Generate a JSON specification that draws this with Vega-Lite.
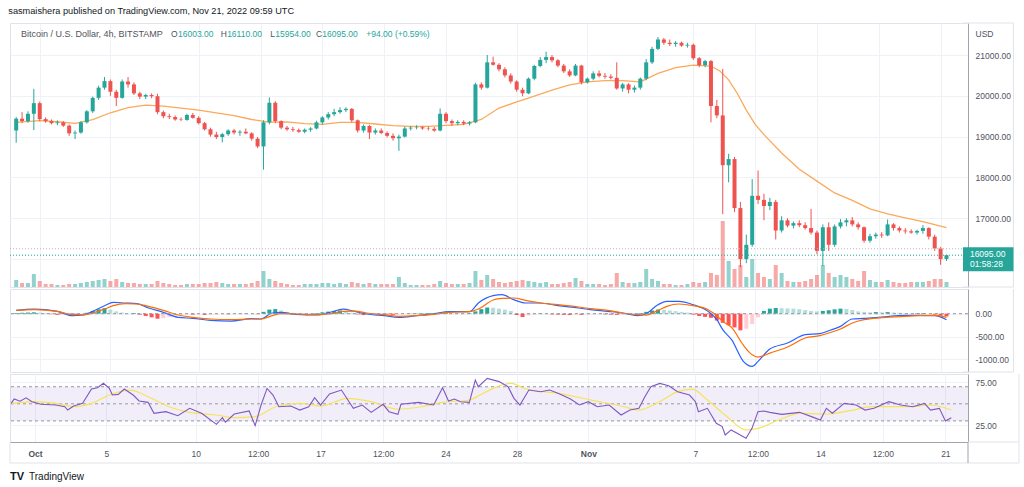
{
"$schema": "https://vega.github.io/schema/vega-lite/v6.json",
"background": "white",
"autosize": {"type": "pad"},
"padding": {"left": 8, "top": 6, "right": 0, "bottom": 0},
"spacing": 0,
"title": {"text": "sasmaishera published on TradingView.com, Nov 21, 2022 09:59 UTC", "anchor": "start", "fontSize": 9.2, "fontWeight": "normal", "font": "Liberation Sans", "color": "#131722", "offset": 6},
"config": {
 "font": "Liberation Sans",
 "view": {"stroke": "#e0e3eb"},
 "axis": {"labelFont": "Liberation Sans", "labelFontSize": 8.5, "labelColor": "#50535e", "gridColor": "#eef1f6", "ticks": false, "domain": false, "title": null}
},
"resolve": {"scale": {"x": "independent"}},
"datasets": {
"candles": [
{"t":"2022-09-29T16:00Z","o":19150,"h":19480,"l":18850,"c":19440,"v":7,"g":15},
{"t":"2022-09-30T00:00Z","o":19440,"h":19600,"l":19330,"c":19380,"v":4,"g":20},
{"t":"2022-09-30T08:00Z","o":19380,"h":19620,"l":19340,"c":19560,"v":4,"g":25},
{"t":"2022-09-30T16:00Z","o":19560,"h":20170,"l":19160,"c":19820,"v":13,"g":30},
{"t":"2022-10-01T00:00Z","o":19820,"h":19860,"l":19380,"c":19430,"v":6,"g":25},
{"t":"2022-10-01T08:00Z","o":19430,"h":19470,"l":19340,"c":19380,"v":3,"g":15},
{"t":"2022-10-01T16:00Z","o":19380,"h":19420,"l":19300,"c":19330,"v":3,"g":-10},
{"t":"2022-10-02T00:00Z","o":19330,"h":19400,"l":19280,"c":19350,"v":2,"g":-25},
{"t":"2022-10-02T08:00Z","o":19350,"h":19380,"l":19240,"c":19270,"v":2,"g":-15},
{"t":"2022-10-02T16:00Z","o":19270,"h":19300,"l":19020,"c":19080,"v":3,"g":-30},
{"t":"2022-10-03T00:00Z","o":19080,"h":19150,"l":18940,"c":19100,"v":3,"g":-40},
{"t":"2022-10-03T08:00Z","o":19100,"h":19380,"l":19070,"c":19350,"v":4,"g":-20},
{"t":"2022-10-03T16:00Z","o":19350,"h":19650,"l":19320,"c":19620,"v":5,"g":20},
{"t":"2022-10-04T00:00Z","o":19620,"h":19980,"l":19580,"c":19950,"v":6,"g":60},
{"t":"2022-10-04T08:00Z","o":19950,"h":20250,"l":19900,"c":20200,"v":7,"g":95},
{"t":"2022-10-04T16:00Z","o":20200,"h":20460,"l":20150,"c":20360,"v":8,"g":120},
{"t":"2022-10-05T00:00Z","o":20360,"h":20400,"l":20000,"c":20100,"v":6,"g":90},
{"t":"2022-10-05T08:00Z","o":20100,"h":20150,"l":19750,"c":19950,"v":8,"g":50},
{"t":"2022-10-05T16:00Z","o":19950,"h":20400,"l":19930,"c":20350,"v":5,"g":25},
{"t":"2022-10-06T00:00Z","o":20350,"h":20460,"l":20200,"c":20280,"v":4,"g":10},
{"t":"2022-10-06T08:00Z","o":20280,"h":20330,"l":20020,"c":20060,"v":4,"g":15},
{"t":"2022-10-06T16:00Z","o":20060,"h":20100,"l":19920,"c":19980,"v":3,"g":-20},
{"t":"2022-10-07T00:00Z","o":19980,"h":20050,"l":19920,"c":20020,"v":3,"g":-50},
{"t":"2022-10-07T08:00Z","o":20020,"h":20060,"l":19940,"c":19990,"v":3,"g":-80},
{"t":"2022-10-07T16:00Z","o":19990,"h":20050,"l":19550,"c":19600,"v":6,"g":-110},
{"t":"2022-10-08T00:00Z","o":19600,"h":19640,"l":19450,"c":19500,"v":4,"g":-100},
{"t":"2022-10-08T08:00Z","o":19500,"h":19560,"l":19430,"c":19480,"v":3,"g":-70},
{"t":"2022-10-08T16:00Z","o":19480,"h":19520,"l":19390,"c":19420,"v":2,"g":-45},
{"t":"2022-10-09T00:00Z","o":19420,"h":19470,"l":19380,"c":19410,"v":2,"g":-25},
{"t":"2022-10-09T08:00Z","o":19410,"h":19560,"l":19390,"c":19530,"v":3,"g":-15},
{"t":"2022-10-09T16:00Z","o":19530,"h":19580,"l":19440,"c":19460,"v":3,"g":-20},
{"t":"2022-10-10T00:00Z","o":19460,"h":19500,"l":19300,"c":19330,"v":3,"g":-15},
{"t":"2022-10-10T08:00Z","o":19330,"h":19360,"l":19150,"c":19180,"v":4,"g":-25},
{"t":"2022-10-10T16:00Z","o":19180,"h":19220,"l":19000,"c":19050,"v":4,"g":-20},
{"t":"2022-10-11T00:00Z","o":19050,"h":19120,"l":18940,"c":18990,"v":5,"g":-15},
{"t":"2022-10-11T08:00Z","o":18990,"h":19090,"l":18860,"c":19060,"v":4,"g":-10},
{"t":"2022-10-11T16:00Z","o":19060,"h":19180,"l":19020,"c":19150,"v":3,"g":-12},
{"t":"2022-10-12T00:00Z","o":19150,"h":19190,"l":19050,"c":19100,"v":3,"g":-8},
{"t":"2022-10-12T08:00Z","o":19100,"h":19160,"l":19020,"c":19120,"v":3,"g":5},
{"t":"2022-10-12T16:00Z","o":19120,"h":19200,"l":19060,"c":19080,"v":3,"g":8},
{"t":"2022-10-13T00:00Z","o":19080,"h":19110,"l":18900,"c":18950,"v":4,"g":5},
{"t":"2022-10-13T08:00Z","o":18950,"h":18990,"l":18720,"c":18760,"v":6,"g":-10},
{"t":"2022-10-13T16:00Z","o":18760,"h":19400,"l":18190,"c":19350,"v":16,"g":40},
{"t":"2022-10-14T00:00Z","o":19350,"h":19960,"l":19300,"c":19830,"v":8,"g":90},
{"t":"2022-10-14T08:00Z","o":19830,"h":19870,"l":19330,"c":19380,"v":6,"g":100},
{"t":"2022-10-14T16:00Z","o":19380,"h":19400,"l":19180,"c":19220,"v":4,"g":70},
{"t":"2022-10-15T00:00Z","o":19220,"h":19260,"l":19140,"c":19180,"v":3,"g":40},
{"t":"2022-10-15T08:00Z","o":19180,"h":19240,"l":19120,"c":19160,"v":2,"g":20},
{"t":"2022-10-15T16:00Z","o":19160,"h":19200,"l":19090,"c":19120,"v":2,"g":8},
{"t":"2022-10-16T00:00Z","o":19120,"h":19200,"l":19080,"c":19170,"v":3,"g":-5},
{"t":"2022-10-16T08:00Z","o":19170,"h":19230,"l":19120,"c":19200,"v":3,"g":-8},
{"t":"2022-10-16T16:00Z","o":19200,"h":19390,"l":19180,"c":19350,"v":3,"g":15},
{"t":"2022-10-17T00:00Z","o":19350,"h":19500,"l":19300,"c":19470,"v":4,"g":30},
{"t":"2022-10-17T08:00Z","o":19470,"h":19600,"l":19420,"c":19550,"v":4,"g":45},
{"t":"2022-10-17T16:00Z","o":19550,"h":19680,"l":19500,"c":19600,"v":3,"g":60},
{"t":"2022-10-18T00:00Z","o":19600,"h":19720,"l":19560,"c":19650,"v":4,"g":70},
{"t":"2022-10-18T08:00Z","o":19650,"h":19720,"l":19600,"c":19680,"v":3,"g":60},
{"t":"2022-10-18T16:00Z","o":19680,"h":19700,"l":19350,"c":19400,"v":5,"g":20},
{"t":"2022-10-19T00:00Z","o":19400,"h":19420,"l":19100,"c":19150,"v":4,"g":-15},
{"t":"2022-10-19T08:00Z","o":19150,"h":19300,"l":19100,"c":19260,"v":3,"g":-30},
{"t":"2022-10-19T16:00Z","o":19260,"h":19290,"l":18940,"c":19100,"v":4,"g":-25},
{"t":"2022-10-20T00:00Z","o":19100,"h":19200,"l":19050,"c":19150,"v":3,"g":-15},
{"t":"2022-10-20T08:00Z","o":19150,"h":19200,"l":19060,"c":19090,"v":3,"g":-10},
{"t":"2022-10-20T16:00Z","o":19090,"h":19130,"l":18980,"c":19020,"v":3,"g":-15},
{"t":"2022-10-21T00:00Z","o":19020,"h":19080,"l":18900,"c":18960,"v":3,"g":-25},
{"t":"2022-10-21T08:00Z","o":18960,"h":19050,"l":18650,"c":19000,"v":10,"g":-20},
{"t":"2022-10-21T16:00Z","o":19000,"h":19250,"l":18980,"c":19200,"v":4,"g":-8},
{"t":"2022-10-22T00:00Z","o":19200,"h":19260,"l":19150,"c":19220,"v":2,"g":5},
{"t":"2022-10-22T08:00Z","o":19220,"h":19280,"l":19180,"c":19230,"v":2,"g":8},
{"t":"2022-10-22T16:00Z","o":19230,"h":19260,"l":19170,"c":19200,"v":2,"g":10},
{"t":"2022-10-23T00:00Z","o":19200,"h":19250,"l":19150,"c":19190,"v":2,"g":12},
{"t":"2022-10-23T08:00Z","o":19190,"h":19240,"l":19120,"c":19150,"v":3,"g":15},
{"t":"2022-10-23T16:00Z","o":19150,"h":19690,"l":19130,"c":19560,"v":6,"g":20},
{"t":"2022-10-24T00:00Z","o":19560,"h":19600,"l":19330,"c":19380,"v":4,"g":25},
{"t":"2022-10-24T08:00Z","o":19380,"h":19420,"l":19260,"c":19330,"v":3,"g":20},
{"t":"2022-10-24T16:00Z","o":19330,"h":19400,"l":19280,"c":19360,"v":3,"g":15},
{"t":"2022-10-25T00:00Z","o":19360,"h":19400,"l":19280,"c":19320,"v":3,"g":10},
{"t":"2022-10-25T08:00Z","o":19320,"h":19380,"l":19270,"c":19350,"v":4,"g":12},
{"t":"2022-10-25T16:00Z","o":19350,"h":20320,"l":19330,"c":20280,"v":16,"g":50},
{"t":"2022-10-26T00:00Z","o":20280,"h":20330,"l":20150,"c":20200,"v":7,"g":100},
{"t":"2022-10-26T08:00Z","o":20200,"h":21000,"l":20180,"c":20820,"v":12,"g":135},
{"t":"2022-10-26T16:00Z","o":20820,"h":20960,"l":20740,"c":20760,"v":8,"g":130},
{"t":"2022-10-27T00:00Z","o":20760,"h":20800,"l":20600,"c":20650,"v":5,"g":110},
{"t":"2022-10-27T08:00Z","o":20650,"h":20700,"l":20450,"c":20500,"v":4,"g":90},
{"t":"2022-10-27T16:00Z","o":20500,"h":20550,"l":20300,"c":20350,"v":5,"g":60},
{"t":"2022-10-28T00:00Z","o":20350,"h":20380,"l":20100,"c":20150,"v":6,"g":-30},
{"t":"2022-10-28T08:00Z","o":20150,"h":20200,"l":19990,"c":20060,"v":7,"g":-70},
{"t":"2022-10-28T16:00Z","o":20060,"h":20450,"l":20040,"c":20420,"v":6,"g":-40},
{"t":"2022-10-29T00:00Z","o":20420,"h":20760,"l":20380,"c":20730,"v":5,"g":-20},
{"t":"2022-10-29T08:00Z","o":20730,"h":20950,"l":20700,"c":20880,"v":4,"g":10},
{"t":"2022-10-29T16:00Z","o":20880,"h":21080,"l":20800,"c":20950,"v":5,"g":5},
{"t":"2022-10-30T00:00Z","o":20950,"h":21000,"l":20820,"c":20870,"v":3,"g":-15},
{"t":"2022-10-30T08:00Z","o":20870,"h":20900,"l":20700,"c":20740,"v":3,"g":-20},
{"t":"2022-10-30T16:00Z","o":20740,"h":20780,"l":20560,"c":20600,"v":4,"g":-25},
{"t":"2022-10-31T00:00Z","o":20600,"h":20650,"l":20460,"c":20500,"v":5,"g":-30},
{"t":"2022-10-31T08:00Z","o":20500,"h":20780,"l":20480,"c":20740,"v":9,"g":-20},
{"t":"2022-10-31T16:00Z","o":20740,"h":20760,"l":20280,"c":20330,"v":6,"g":-25},
{"t":"2022-11-01T00:00Z","o":20330,"h":20450,"l":20300,"c":20420,"v":3,"g":-20},
{"t":"2022-11-01T08:00Z","o":20420,"h":20600,"l":20380,"c":20550,"v":3,"g":-15},
{"t":"2022-11-01T16:00Z","o":20550,"h":20620,"l":20450,"c":20490,"v":3,"g":-12},
{"t":"2022-11-02T00:00Z","o":20490,"h":20560,"l":20420,"c":20470,"v":2,"g":-15},
{"t":"2022-11-02T08:00Z","o":20470,"h":20530,"l":20400,"c":20440,"v":3,"g":-20},
{"t":"2022-11-02T16:00Z","o":20440,"h":20820,"l":20150,"c":20180,"v":14,"g":-25},
{"t":"2022-11-03T00:00Z","o":20180,"h":20320,"l":20100,"c":20280,"v":5,"g":-22},
{"t":"2022-11-03T08:00Z","o":20280,"h":20310,"l":20060,"c":20150,"v":4,"g":-18},
{"t":"2022-11-03T16:00Z","o":20150,"h":20250,"l":20080,"c":20200,"v":4,"g":-10},
{"t":"2022-11-04T00:00Z","o":20200,"h":20450,"l":20150,"c":20420,"v":5,"g":15},
{"t":"2022-11-04T08:00Z","o":20420,"h":20900,"l":20380,"c":20820,"v":18,"g":40},
{"t":"2022-11-04T16:00Z","o":20820,"h":21200,"l":20780,"c":21150,"v":8,"g":70},
{"t":"2022-11-05T00:00Z","o":21150,"h":21440,"l":21120,"c":21380,"v":6,"g":90},
{"t":"2022-11-05T08:00Z","o":21380,"h":21420,"l":21250,"c":21300,"v":3,"g":85},
{"t":"2022-11-05T16:00Z","o":21300,"h":21380,"l":21220,"c":21270,"v":3,"g":70},
{"t":"2022-11-06T00:00Z","o":21270,"h":21340,"l":21200,"c":21300,"v":2,"g":55},
{"t":"2022-11-06T08:00Z","o":21300,"h":21330,"l":21200,"c":21230,"v":2,"g":40},
{"t":"2022-11-06T16:00Z","o":21230,"h":21300,"l":21180,"c":21250,"v":3,"g":25},
{"t":"2022-11-07T00:00Z","o":21250,"h":21280,"l":20880,"c":20920,"v":5,"g":-20},
{"t":"2022-11-07T08:00Z","o":20920,"h":20950,"l":20700,"c":20750,"v":4,"g":-50},
{"t":"2022-11-07T16:00Z","o":20750,"h":20880,"l":20700,"c":20850,"v":5,"g":-70},
{"t":"2022-11-08T00:00Z","o":20850,"h":20880,"l":19350,"c":19750,"v":14,"g":-90},
{"t":"2022-11-08T08:00Z","o":19750,"h":19900,"l":19450,"c":19520,"v":12,"g":-150},
{"t":"2022-11-08T16:00Z","o":19520,"h":20660,"l":17100,"c":18300,"v":66,"g":-200},
{"t":"2022-11-09T00:00Z","o":18300,"h":18580,"l":17880,"c":18450,"v":26,"g":-250},
{"t":"2022-11-09T08:00Z","o":18450,"h":18500,"l":17150,"c":17250,"v":18,"g":-300},
{"t":"2022-11-09T16:00Z","o":17250,"h":17400,"l":15800,"c":16000,"v":22,"g":-365},
{"t":"2022-11-10T00:00Z","o":16000,"h":16600,"l":15900,"c":16350,"v":10,"g":-330},
{"t":"2022-11-10T08:00Z","o":16350,"h":17960,"l":16300,"c":17550,"v":28,"g":-230},
{"t":"2022-11-10T16:00Z","o":17550,"h":18170,"l":17350,"c":17450,"v":14,"g":-80},
{"t":"2022-11-11T00:00Z","o":17450,"h":17600,"l":16950,"c":17300,"v":10,"g":60},
{"t":"2022-11-11T08:00Z","o":17300,"h":17500,"l":17200,"c":17400,"v":8,"g":110},
{"t":"2022-11-11T16:00Z","o":17400,"h":17450,"l":16480,"c":16700,"v":22,"g":124},
{"t":"2022-11-12T00:00Z","o":16700,"h":17050,"l":16650,"c":16950,"v":14,"g":120},
{"t":"2022-11-12T08:00Z","o":16950,"h":17000,"l":16780,"c":16820,"v":6,"g":115},
{"t":"2022-11-12T16:00Z","o":16820,"h":16920,"l":16750,"c":16880,"v":5,"g":110},
{"t":"2022-11-13T00:00Z","o":16880,"h":16950,"l":16780,"c":16830,"v":5,"g":100},
{"t":"2022-11-13T08:00Z","o":16830,"h":16900,"l":16720,"c":16760,"v":6,"g":80},
{"t":"2022-11-13T16:00Z","o":16760,"h":17230,"l":16600,"c":16650,"v":8,"g":60},
{"t":"2022-11-14T00:00Z","o":16650,"h":16700,"l":16120,"c":16200,"v":12,"g":50},
{"t":"2022-11-14T08:00Z","o":16200,"h":16850,"l":15830,"c":16780,"v":22,"g":60},
{"t":"2022-11-14T16:00Z","o":16780,"h":16900,"l":16200,"c":16350,"v":14,"g":75},
{"t":"2022-11-15T00:00Z","o":16350,"h":16850,"l":16300,"c":16800,"v":10,"g":95},
{"t":"2022-11-15T08:00Z","o":16800,"h":16980,"l":16750,"c":16900,"v":12,"g":110},
{"t":"2022-11-15T16:00Z","o":16900,"h":17000,"l":16800,"c":16950,"v":10,"g":105},
{"t":"2022-11-16T00:00Z","o":16950,"h":17030,"l":16800,"c":16850,"v":8,"g":80},
{"t":"2022-11-16T08:00Z","o":16850,"h":16900,"l":16720,"c":16780,"v":6,"g":50},
{"t":"2022-11-16T16:00Z","o":16780,"h":16800,"l":16400,"c":16450,"v":16,"g":35},
{"t":"2022-11-17T00:00Z","o":16450,"h":16620,"l":16400,"c":16560,"v":7,"g":30},
{"t":"2022-11-17T08:00Z","o":16560,"h":16650,"l":16500,"c":16600,"v":5,"g":35},
{"t":"2022-11-17T16:00Z","o":16600,"h":16660,"l":16520,"c":16580,"v":5,"g":30},
{"t":"2022-11-18T00:00Z","o":16580,"h":16970,"l":16560,"c":16850,"v":7,"g":35},
{"t":"2022-11-18T08:00Z","o":16850,"h":16880,"l":16700,"c":16760,"v":5,"g":25},
{"t":"2022-11-18T16:00Z","o":16760,"h":16800,"l":16650,"c":16700,"v":4,"g":20},
{"t":"2022-11-19T00:00Z","o":16700,"h":16760,"l":16620,"c":16680,"v":4,"g":15},
{"t":"2022-11-19T08:00Z","o":16680,"h":16730,"l":16620,"c":16650,"v":5,"g":10},
{"t":"2022-11-19T16:00Z","o":16650,"h":16720,"l":16600,"c":16690,"v":5,"g":12},
{"t":"2022-11-20T00:00Z","o":16690,"h":16830,"l":16620,"c":16760,"v":5,"g":15},
{"t":"2022-11-20T08:00Z","o":16760,"h":16780,"l":16480,"c":16550,"v":6,"g":5},
{"t":"2022-11-20T16:00Z","o":16550,"h":16600,"l":16200,"c":16260,"v":8,"g":-20},
{"t":"2022-11-21T00:00Z","o":16260,"h":16300,"l":15860,"c":16000,"v":8,"g":-45},
{"t":"2022-11-21T08:00Z","o":16003,"h":16110,"l":15954,"c":16095,"v":5,"g":-60}
],
"ma": [
{"t":"2022-09-29T16:00Z","p":19350},{"t":"2022-10-01T00:00Z","p":19390},{"t":"2022-10-02T00:00Z","p":19365},{"t":"2022-10-03T00:00Z","p":19325},{"t":"2022-10-04T00:00Z","p":19416},{"t":"2022-10-05T00:00Z","p":19585},{"t":"2022-10-06T00:00Z","p":19710},{"t":"2022-10-07T00:00Z","p":19770},{"t":"2022-10-08T00:00Z","p":19745},{"t":"2022-10-09T00:00Z","p":19700},{"t":"2022-10-10T00:00Z","p":19650},{"t":"2022-10-11T00:00Z","p":19580},{"t":"2022-10-12T00:00Z","p":19515},{"t":"2022-10-13T00:00Z","p":19420},{"t":"2022-10-14T00:00Z","p":19355},{"t":"2022-10-15T00:00Z","p":19360},{"t":"2022-10-16T00:00Z","p":19320},{"t":"2022-10-17T00:00Z","p":19300},{"t":"2022-10-18T00:00Z","p":19350},{"t":"2022-10-19T00:00Z","p":19350},{"t":"2022-10-20T00:00Z","p":19310},{"t":"2022-10-21T00:00Z","p":19270},{"t":"2022-10-22T00:00Z","p":19250},{"t":"2022-10-23T00:00Z","p":19250},{"t":"2022-10-24T00:00Z","p":19275},{"t":"2022-10-25T00:00Z","p":19300},{"t":"2022-10-26T00:00Z","p":19420},{"t":"2022-10-27T00:00Z","p":19700},{"t":"2022-10-28T00:00Z","p":19850},{"t":"2022-10-29T00:00Z","p":19990},{"t":"2022-10-30T00:00Z","p":20140},{"t":"2022-10-31T00:00Z","p":20270},{"t":"2022-11-01T00:00Z","p":20340},{"t":"2022-11-02T00:00Z","p":20370},{"t":"2022-11-03T00:00Z","p":20370},{"t":"2022-11-04T00:00Z","p":20340},{"t":"2022-11-05T00:00Z","p":20550},{"t":"2022-11-06T00:00Z","p":20690},{"t":"2022-11-07T00:00Z","p":20750},{"t":"2022-11-08T00:00Z","p":20730},{"t":"2022-11-08T12:00Z","p":20610},{"t":"2022-11-09T00:00Z","p":20390},{"t":"2022-11-09T12:00Z","p":20050},{"t":"2022-11-10T00:00Z","p":19650},{"t":"2022-11-10T12:00Z","p":19300},{"t":"2022-11-11T00:00Z","p":19050},{"t":"2022-11-12T00:00Z","p":18600},{"t":"2022-11-13T00:00Z","p":18200},{"t":"2022-11-14T00:00Z","p":17910},{"t":"2022-11-15T00:00Z","p":17620},{"t":"2022-11-16T00:00Z","p":17440},{"t":"2022-11-17T00:00Z","p":17230},{"t":"2022-11-18T00:00Z","p":17110},{"t":"2022-11-19T00:00Z","p":17010},{"t":"2022-11-20T00:00Z","p":16920},{"t":"2022-11-21T00:00Z","p":16810},{"t":"2022-11-21T08:00Z","p":16770}
],
"macd": [
{"t":"2022-09-29T16:00Z","m":73,"s":73},{"t":"2022-09-30T16:00Z","m":102,"s":88},{"t":"2022-10-02T00:00Z","m":51,"s":51},{"t":"2022-10-02T20:00Z","m":-44,"s":-22},{"t":"2022-10-03T12:00Z","m":-29,"s":-22},{"t":"2022-10-04T00:00Z","m":51,"s":15},{"t":"2022-10-04T16:00Z","m":175,"s":102},{"t":"2022-10-05T04:00Z","m":249,"s":175},{"t":"2022-10-05T20:00Z","m":234,"s":219},{"t":"2022-10-06T12:00Z","m":219,"s":212},{"t":"2022-10-07T04:00Z","m":124,"s":161},{"t":"2022-10-08T00:00Z","m":29,"s":73},{"t":"2022-10-08T20:00Z","m":-80,"s":-29},{"t":"2022-10-09T16:00Z","m":-102,"s":-80},{"t":"2022-10-10T16:00Z","m":-146,"s":-117},{"t":"2022-10-11T20:00Z","m":-161,"s":-132},{"t":"2022-10-13T00:00Z","m":-110,"s":-117},{"t":"2022-10-13T12:00Z","m":-117,"s":-117},{"t":"2022-10-14T04:00Z","m":15,"s":-44},{"t":"2022-10-14T16:00Z","m":29,"s":0},{"t":"2022-10-15T12:00Z","m":-15,"s":-7},{"t":"2022-10-16T16:00Z","m":-29,"s":-22},{"t":"2022-10-17T12:00Z","m":37,"s":0},{"t":"2022-10-18T04:00Z","m":102,"s":51},{"t":"2022-10-18T20:00Z","m":51,"s":55},{"t":"2022-10-19T12:00Z","m":-7,"s":15},{"t":"2022-10-20T12:00Z","m":-44,"s":-22},{"t":"2022-10-21T08:00Z","m":-80,"s":-58},{"t":"2022-10-22T08:00Z","m":-44,"s":-44},{"t":"2022-10-23T08:00Z","m":0,"s":-15},{"t":"2022-10-24T04:00Z","m":44,"s":29},{"t":"2022-10-25T08:00Z","m":44,"s":44},{"t":"2022-10-25T20:00Z","m":234,"s":102},{"t":"2022-10-26T16:00Z","m":395,"s":300},{"t":"2022-10-27T04:00Z","m":417,"s":335},{"t":"2022-10-27T20:00Z","m":307,"s":344},{"t":"2022-10-28T12:00Z","m":234,"s":292},{"t":"2022-10-29T08:00Z","m":234,"s":234},{"t":"2022-10-30T08:00Z","m":175,"s":197},{"t":"2022-10-31T12:00Z","m":124,"s":146},{"t":"2022-11-01T04:00Z","m":88,"s":110},{"t":"2022-11-02T04:00Z","m":51,"s":73},{"t":"2022-11-03T00:00Z","m":15,"s":15},{"t":"2022-11-03T20:00Z","m":-44,"s":-22},{"t":"2022-11-04T08:00Z","m":0,"s":-30},{"t":"2022-11-05T00:00Z","m":197,"s":73},{"t":"2022-11-05T12:00Z","m":270,"s":161},{"t":"2022-11-06T04:00Z","m":270,"s":212},{"t":"2022-11-07T00:00Z","m":197,"s":175},{"t":"2022-11-07T20:00Z","m":51,"s":88},{"t":"2022-11-08T08:00Z","m":-132,"s":-44},{"t":"2022-11-08T16:00Z","m":-351,"s":-168},{"t":"2022-11-09T04:00Z","m":-570,"s":-300},{"t":"2022-11-09T20:00Z","m":-1045,"s":-690},{"t":"2022-11-10T08:00Z","m":-1155,"s":-900},{"t":"2022-11-10T16:00Z","m":-1045,"s":-950},{"t":"2022-11-11T08:00Z","m":-775,"s":-863},{"t":"2022-11-12T08:00Z","m":-643,"s":-731},{"t":"2022-11-13T08:00Z","m":-460,"s":-534},{"t":"2022-11-14T04:00Z","m":-438,"s":-482},{"t":"2022-11-14T16:00Z","m":-373,"s":-424},{"t":"2022-11-15T08:00Z","m":-278,"s":-336},{"t":"2022-11-16T00:00Z","m":-117,"s":-205},{"t":"2022-11-16T16:00Z","m":-102,"s":-132},{"t":"2022-11-17T16:00Z","m":-73,"s":-88},{"t":"2022-11-19T00:00Z","m":-37,"s":-58},{"t":"2022-11-19T20:00Z","m":-37,"s":-44},{"t":"2022-11-20T16:00Z","m":-44,"s":-37},{"t":"2022-11-21T08:00Z","m":-132,"s":-80}
],
"rsi": [
{"t":"2022-09-29T16:00Z","r":50.5},{"t":"2022-09-29T20:00Z","r":55.6},{"t":"2022-09-30T04:00Z","r":53},{"t":"2022-09-30T12:00Z","r":57},{"t":"2022-09-30T20:00Z","r":52.5},{"t":"2022-10-01T08:00Z","r":49.4},{"t":"2022-10-02T04:00Z","r":48.6},{"t":"2022-10-02T16:00Z","r":46.6},{"t":"2022-10-02T20:00Z","r":42.7},{"t":"2022-10-03T04:00Z","r":47.4},{"t":"2022-10-03T16:00Z","r":50.5},{"t":"2022-10-04T04:00Z","r":67.3},{"t":"2022-10-04T12:00Z","r":68.9},{"t":"2022-10-04T20:00Z","r":74},{"t":"2022-10-05T04:00Z","r":68},{"t":"2022-10-05T08:00Z","r":60.3},{"t":"2022-10-05T16:00Z","r":61},{"t":"2022-10-06T00:00Z","r":67.3},{"t":"2022-10-06T12:00Z","r":60.3},{"t":"2022-10-06T20:00Z","r":53.3},{"t":"2022-10-07T08:00Z","r":51.7},{"t":"2022-10-07T16:00Z","r":38.9},{"t":"2022-10-08T08:00Z","r":40.8},{"t":"2022-10-09T00:00Z","r":36.1},{"t":"2022-10-09T16:00Z","r":44.7},{"t":"2022-10-10T08:00Z","r":38.9},{"t":"2022-10-11T04:00Z","r":26},{"t":"2022-10-11T12:00Z","r":33.8},{"t":"2022-10-11T16:00Z","r":28.4},{"t":"2022-10-12T04:00Z","r":38.1},{"t":"2022-10-13T00:00Z","r":41.6},{"t":"2022-10-13T08:00Z","r":24.4},{"t":"2022-10-13T16:00Z","r":48.6},{"t":"2022-10-14T00:00Z","r":68},{"t":"2022-10-14T08:00Z","r":60.3},{"t":"2022-10-14T16:00Z","r":46.6},{"t":"2022-10-15T08:00Z","r":47.4},{"t":"2022-10-15T20:00Z","r":42.7},{"t":"2022-10-16T08:00Z","r":46.6},{"t":"2022-10-16T16:00Z","r":57.2},{"t":"2022-10-17T00:00Z","r":48.6},{"t":"2022-10-17T12:00Z","r":61.5},{"t":"2022-10-18T04:00Z","r":66.1},{"t":"2022-10-18T20:00Z","r":44.7},{"t":"2022-10-19T08:00Z","r":48.6},{"t":"2022-10-19T20:00Z","r":40},{"t":"2022-10-20T12:00Z","r":49.4},{"t":"2022-10-20T20:00Z","r":40.8},{"t":"2022-10-21T08:00Z","r":37.7},{"t":"2022-10-21T12:00Z","r":49.4},{"t":"2022-10-22T12:00Z","r":51.7},{"t":"2022-10-23T08:00Z","r":48.6},{"t":"2022-10-23T20:00Z","r":68.9},{"t":"2022-10-24T04:00Z","r":53.3},{"t":"2022-10-24T12:00Z","r":55.6},{"t":"2022-10-24T20:00Z","r":52.5},{"t":"2022-10-25T08:00Z","r":51.7},{"t":"2022-10-25T16:00Z","r":77.8},{"t":"2022-10-25T20:00Z","r":70},{"t":"2022-10-26T08:00Z","r":79.8},{"t":"2022-10-27T00:00Z","r":76},{"t":"2022-10-27T12:00Z","r":70},{"t":"2022-10-27T20:00Z","r":56.4},{"t":"2022-10-28T04:00Z","r":48.6},{"t":"2022-10-28T16:00Z","r":66.1},{"t":"2022-10-29T08:00Z","r":64.2},{"t":"2022-10-29T20:00Z","r":66.1},{"t":"2022-10-30T08:00Z","r":62.2},{"t":"2022-10-31T00:00Z","r":55.6},{"t":"2022-10-31T12:00Z","r":48.6},{"t":"2022-11-01T00:00Z","r":52.5},{"t":"2022-11-01T12:00Z","r":46.6},{"t":"2022-11-02T04:00Z","r":48.6},{"t":"2022-11-02T20:00Z","r":36.9},{"t":"2022-11-03T08:00Z","r":42.7},{"t":"2022-11-03T20:00Z","r":44.7},{"t":"2022-11-04T04:00Z","r":58.3},{"t":"2022-11-04T12:00Z","r":70},{"t":"2022-11-05T00:00Z","r":73.9},{"t":"2022-11-05T12:00Z","r":71.2},{"t":"2022-11-06T00:00Z","r":64.2},{"t":"2022-11-06T16:00Z","r":60.3},{"t":"2022-11-07T00:00Z","r":52.5},{"t":"2022-11-07T04:00Z","r":40.8},{"t":"2022-11-07T16:00Z","r":44.7},{"t":"2022-11-08T04:00Z","r":27.2},{"t":"2022-11-08T12:00Z","r":23.3},{"t":"2022-11-08T16:00Z","r":13.5},{"t":"2022-11-09T00:00Z","r":19.4},{"t":"2022-11-09T08:00Z","r":15.5},{"t":"2022-11-09T20:00Z","r":9.6},{"t":"2022-11-10T04:00Z","r":21.3},{"t":"2022-11-10T12:00Z","r":40.8},{"t":"2022-11-10T20:00Z","r":41.5},{"t":"2022-11-11T04:00Z","r":40},{"t":"2022-11-11T20:00Z","r":37.7},{"t":"2022-11-12T20:00Z","r":40},{"t":"2022-11-13T12:00Z","r":35},{"t":"2022-11-14T00:00Z","r":31},{"t":"2022-11-14T08:00Z","r":44.7},{"t":"2022-11-14T16:00Z","r":38.9},{"t":"2022-11-15T08:00Z","r":50.5},{"t":"2022-11-16T00:00Z","r":48.6},{"t":"2022-11-16T12:00Z","r":42.7},{"t":"2022-11-17T00:00Z","r":44.7},{"t":"2022-11-17T20:00Z","r":52.5},{"t":"2022-11-18T12:00Z","r":48.6},{"t":"2022-11-19T04:00Z","r":46.6},{"t":"2022-11-19T20:00Z","r":50.5},{"t":"2022-11-20T04:00Z","r":42.7},{"t":"2022-11-20T16:00Z","r":44.7},{"t":"2022-11-21T00:00Z","r":29.9},{"t":"2022-11-21T08:00Z","r":33.8}
],
"rsima": [
{"t":"2022-09-29T16:00Z","a":50.5},{"t":"2022-10-01T00:00Z","a":52.5},{"t":"2022-10-02T04:00Z","a":50.5},{"t":"2022-10-03T04:00Z","a":46.6},{"t":"2022-10-04T04:00Z","a":50.5},{"t":"2022-10-05T04:00Z","a":60.3},{"t":"2022-10-06T08:00Z","a":66.1},{"t":"2022-10-07T08:00Z","a":58.3},{"t":"2022-10-08T12:00Z","a":46.6},{"t":"2022-10-09T16:00Z","a":40},{"t":"2022-10-11T04:00Z","a":36.9},{"t":"2022-10-12T04:00Z","a":33.8},{"t":"2022-10-13T08:00Z","a":35},{"t":"2022-10-14T12:00Z","a":46.6},{"t":"2022-10-15T20:00Z","a":50.5},{"t":"2022-10-17T00:00Z","a":47.4},{"t":"2022-10-18T12:00Z","a":56.4},{"t":"2022-10-19T20:00Z","a":52.5},{"t":"2022-10-21T08:00Z","a":43.9},{"t":"2022-10-22T16:00Z","a":46.6},{"t":"2022-10-23T20:00Z","a":51.7},{"t":"2022-10-25T08:00Z","a":54.5},{"t":"2022-10-26T00:00Z","a":61.1},{"t":"2022-10-26T16:00Z","a":68.1},{"t":"2022-10-27T16:00Z","a":73.9},{"t":"2022-10-28T12:00Z","a":67.3},{"t":"2022-10-30T08:00Z","a":62.2},{"t":"2022-11-01T04:00Z","a":54.4},{"t":"2022-11-03T00:00Z","a":46.6},{"t":"2022-11-03T20:00Z","a":42.7},{"t":"2022-11-05T00:00Z","a":52.5},{"t":"2022-11-06T00:00Z","a":64.2},{"t":"2022-11-06T20:00Z","a":67.3},{"t":"2022-11-07T16:00Z","a":54.4},{"t":"2022-11-08T16:00Z","a":36.9},{"t":"2022-11-09T20:00Z","a":19.4},{"t":"2022-11-10T12:00Z","a":21.3},{"t":"2022-11-11T16:00Z","a":31},{"t":"2022-11-12T20:00Z","a":38.9},{"t":"2022-11-14T08:00Z","a":38.1},{"t":"2022-11-15T20:00Z","a":42.7},{"t":"2022-11-16T20:00Z","a":46.6},{"t":"2022-11-19T00:00Z","a":46.6},{"t":"2022-11-20T04:00Z","a":48.6},{"t":"2022-11-21T08:00Z","a":42.7}
],
"levels": [{"lv":70},{"lv":50},{"lv":30}]
},
"vconcat": [
{
 "width": 958, "height": 264,
 "layer": [
  {"data": {"name": "candles"},
   "mark": {"type": "bar", "size": 4, "opacity": 0.5},
   "encoding": {
     "x": {"field": "t", "type": "temporal", "title": null,
       "scale": {"type": "utc", "domain": [{"year":2022,"month":9,"date":29,"hours":14,"minutes":24,"utc":true},{"year":2022,"month":11,"date":22,"hours":6,"minutes":26,"utc":true}]},
       "axis": {"labels": false, "grid": true, "domain": false, "ticks": false, "title": null, "values": [{"year":2022,"month":10,"date":1,"utc":true},{"year":2022,"month":10,"date":5,"utc":true},{"year":2022,"month":10,"date":10,"utc":true},{"year":2022,"month":10,"date":13,"hours":12,"utc":true},{"year":2022,"month":10,"date":17,"utc":true},{"year":2022,"month":10,"date":20,"hours":12,"utc":true},{"year":2022,"month":10,"date":24,"utc":true},{"year":2022,"month":10,"date":28,"utc":true},{"year":2022,"month":11,"date":1,"utc":true},{"year":2022,"month":11,"date":7,"utc":true},{"year":2022,"month":11,"date":10,"hours":12,"utc":true},{"year":2022,"month":11,"date":14,"utc":true},{"year":2022,"month":11,"date":17,"hours":12,"utc":true},{"year":2022,"month":11,"date":21,"utc":true}]}},
     "y": {"field": "v", "type": "quantitative", "scale": {"domain": [0, 264], "nice": false, "zero": true}, "axis": null},
     "color": {"condition": {"test": "datum.c >= datum.o", "value": "#26a69a"}, "value": "#ef5350"}}},
  {"layer": [
   {"encoding": {"x": {"field": "t", "type": "temporal", "title": null,
       "scale": {"type": "utc", "domain": [{"year":2022,"month":9,"date":29,"hours":14,"minutes":24,"utc":true},{"year":2022,"month":11,"date":22,"hours":6,"minutes":26,"utc":true}]}}},
    "layer": [
     {"data": {"name": "ma"},
      "mark": {"type": "line", "color": "#fba95a", "strokeWidth": 1.3},
      "encoding": {"y": {"field": "p", "type": "quantitative", "scale": {"domain": [15316, 21784], "nice": false, "zero": false},
        "axis": {"orient": "right", "grid": true, "domain": true, "domainColor": "#a0a3ab", "labelPadding": 7, "values": [16000, 17000, 18000, 19000, 20000, 21000], "labelExpr": "datum.value == 16000 ? '' : format(datum.value, '.2f')", "title": "USD", "titleAngle": 0, "titleAlign": "left", "titleBaseline": "middle", "titleX": 7, "titleY": 10, "titleFontSize": 8.5, "titleFontWeight": "normal", "titleColor": "#50535e", "titleFont": "Liberation Sans"}}}},
     {"data": {"name": "candles"},
      "mark": {"type": "rule", "strokeWidth": 1},
      "encoding": {"y": {"field": "l", "type": "quantitative", "scale": {"domain": [15316, 21784], "nice": false, "zero": false}}, "y2": {"field": "h"},
        "color": {"condition": {"test": "datum.c >= datum.o", "value": "#26a69a"}, "value": "#ef5350"}}},
     {"data": {"name": "candles"},
      "mark": {"type": "bar", "size": 4},
      "encoding": {"y": {"field": "o", "type": "quantitative", "scale": {"domain": [15316, 21784], "nice": false, "zero": false}}, "y2": {"field": "c"},
        "color": {"condition": {"test": "datum.c >= datum.o", "value": "#26a69a"}, "value": "#ef5350"}}}
    ]},
   {"data": {"values": [{"lvl": "prev"}]},
    "mark": {"type": "rule", "color": "#b2b5be", "strokeDash": [1, 2], "strokeWidth": 1},
    "encoding": {"y": {"datum": 16252, "type": "quantitative", "scale": {"domain": [15316, 21784], "nice": false, "zero": false}}}},
   {"data": {"values": [{"lvl": "last"}]},
    "mark": {"type": "rule", "color": "#26a69a", "strokeDash": [1, 2], "strokeWidth": 1},
    "encoding": {"y": {"datum": 16095, "type": "quantitative", "scale": {"domain": [15316, 21784], "nice": false, "zero": false}}}},
   {"data": {"values": [{"part": "frame-right"}]},
    "mark": {"type": "rule", "color": "#e0e3eb", "strokeWidth": 1},
    "encoding": {"x": {"datum": {"year":2022,"month":11,"date":25,"hours":3,"utc":true}, "type": "temporal"},
      "y": {"datum": 21784, "type": "quantitative", "scale": {"domain": [15316, 21784], "nice": false, "zero": false}}, "y2": {"datum": 15316}}},
   {"data": {"values": [{"part": "frame-top"}]},
    "mark": {"type": "rule", "color": "#e0e3eb", "strokeWidth": 1},
    "encoding": {"x": {"datum": {"year":2022,"month":11,"date":22,"hours":6,"minutes":26,"utc":true}, "type": "temporal"}, "x2": {"datum": {"year":2022,"month":11,"date":25,"hours":3,"utc":true}},
      "y": {"datum": 21784, "type": "quantitative", "scale": {"domain": [15316, 21784], "nice": false, "zero": false}}}},
   {"data": {"values": [{"part": "frame-sep"}]},
    "mark": {"type": "rule", "color": "#e0e3eb", "strokeWidth": 1},
    "encoding": {"x": {"datum": {"year":2022,"month":11,"date":22,"hours":6,"minutes":26,"utc":true}, "type": "temporal"}, "x2": {"datum": {"year":2022,"month":11,"date":25,"hours":3,"utc":true}},
      "y": {"datum": 15316, "type": "quantitative", "scale": {"domain": [15316, 21784], "nice": false, "zero": false}}}},
   {"data": {"values": [{"part": "symbol"}]},
    "mark": {"type": "text", "align": "left", "baseline": "middle", "fontSize": 9, "color": "#50535e"},
    "encoding": {"x": {"datum": {"year":2022,"month":9,"date":29,"hours":22,"minutes":27,"utc":true}, "type": "temporal"}, "y": {"datum": 21515, "type": "quantitative", "scale": {"domain": [15316, 21784], "nice": false, "zero": false}}, "text": {"value": "Bitcoin / U.S. Dollar, 4h, BITSTAMP"}}},
   {"data": {"values": [{"part": "o"}]},
    "mark": {"type": "text", "align": "left", "baseline": "middle", "fontSize": 8.5, "color": "#50535e"},
    "encoding": {"x": {"datum": {"year":2022,"month":10,"date":8,"hours":10,"minutes":24,"utc":true}, "type": "temporal"}, "y": {"datum": 21515, "type": "quantitative", "scale": {"domain": [15316, 21784], "nice": false, "zero": false}}, "text": {"value": "O"}}},
   {"data": {"values": [{"part": "ov"}]},
    "mark": {"type": "text", "align": "left", "baseline": "middle", "fontSize": 8.5, "color": "#26a69a"},
    "encoding": {"x": {"datum": {"year":2022,"month":10,"date":8,"hours":19,"minutes":50,"utc":true}, "type": "temporal"}, "y": {"datum": 21515, "type": "quantitative", "scale": {"domain": [15316, 21784], "nice": false, "zero": false}}, "text": {"value": "16003.00"}}},
   {"data": {"values": [{"part": "h"}]},
    "mark": {"type": "text", "align": "left", "baseline": "middle", "fontSize": 8.5, "color": "#50535e"},
    "encoding": {"x": {"datum": {"year":2022,"month":10,"date":11,"hours":6,"minutes":2,"utc":true}, "type": "temporal"}, "y": {"datum": 21515, "type": "quantitative", "scale": {"domain": [15316, 21784], "nice": false, "zero": false}}, "text": {"value": "H"}}},
   {"data": {"values": [{"part": "hv"}]},
    "mark": {"type": "text", "align": "left", "baseline": "middle", "fontSize": 8.5, "color": "#26a69a"},
    "encoding": {"x": {"datum": {"year":2022,"month":10,"date":11,"hours":14,"minutes":38,"utc":true}, "type": "temporal"}, "y": {"datum": 21515, "type": "quantitative", "scale": {"domain": [15316, 21784], "nice": false, "zero": false}}, "text": {"value": "16110.00"}}},
   {"data": {"values": [{"part": "l"}]},
    "mark": {"type": "text", "align": "left", "baseline": "middle", "fontSize": 8.5, "color": "#50535e"},
    "encoding": {"x": {"datum": {"year":2022,"month":10,"date":14,"hours":1,"minutes":16,"utc":true}, "type": "temporal"}, "y": {"datum": 21515, "type": "quantitative", "scale": {"domain": [15316, 21784], "nice": false, "zero": false}}, "text": {"value": "L"}}},
   {"data": {"values": [{"part": "lv"}]},
    "mark": {"type": "text", "align": "left", "baseline": "middle", "fontSize": 8.5, "color": "#26a69a"},
    "encoding": {"x": {"datum": {"year":2022,"month":10,"date":14,"hours":8,"utc":true}, "type": "temporal"}, "y": {"datum": 21515, "type": "quantitative", "scale": {"domain": [15316, 21784], "nice": false, "zero": false}}, "text": {"value": "15954.00"}}},
   {"data": {"values": [{"part": "c"}]},
    "mark": {"type": "text", "align": "left", "baseline": "middle", "fontSize": 8.5, "color": "#50535e"},
    "encoding": {"x": {"datum": {"year":2022,"month":10,"date":16,"hours":15,"minutes":31,"utc":true}, "type": "temporal"}, "y": {"datum": 21515, "type": "quantitative", "scale": {"domain": [15316, 21784], "nice": false, "zero": false}}, "text": {"value": "C"}}},
   {"data": {"values": [{"part": "cv"}]},
    "mark": {"type": "text", "align": "left", "baseline": "middle", "fontSize": 8.5, "color": "#26a69a"},
    "encoding": {"x": {"datum": {"year":2022,"month":10,"date":17,"utc":true}, "type": "temporal"}, "y": {"datum": 21515, "type": "quantitative", "scale": {"domain": [15316, 21784], "nice": false, "zero": false}}, "text": {"value": "16095.00"}}},
   {"data": {"values": [{"part": "chg"}]},
    "mark": {"type": "text", "align": "left", "baseline": "middle", "fontSize": 8.5, "color": "#26a69a"},
    "encoding": {"x": {"datum": {"year":2022,"month":10,"date":19,"hours":11,"minutes":41,"utc":true}, "type": "temporal"}, "y": {"datum": 21515, "type": "quantitative", "scale": {"domain": [15316, 21784], "nice": false, "zero": false}}, "text": {"value": "+94.00 (+0.59%)"}}},
   {"data": {"values": [{"part": "box"}]},
    "mark": {"type": "rect", "color": "#26a69a"},
    "encoding": {"x": {"datum": {"year":2022,"month":11,"date":22,"hours":6,"minutes":26,"utc":true}, "type": "temporal"}, "x2": {"datum": {"year":2022,"month":11,"date":25,"hours":3,"utc":true}},
      "y": {"datum": 16290, "type": "quantitative", "scale": {"domain": [15316, 21784], "nice": false, "zero": false}}, "y2": {"datum": 15700}}},
   {"data": {"values": [{"part": "boxprice"}]},
    "mark": {"type": "text", "align": "left", "baseline": "middle", "fontSize": 8.5, "color": "white"},
    "encoding": {"x": {"datum": {"year":2022,"month":11,"date":22,"hours":15,"minutes":50,"utc":true}, "type": "temporal"}, "y": {"datum": 16120, "type": "quantitative", "scale": {"domain": [15316, 21784], "nice": false, "zero": false}}, "text": {"value": "16095.00"}}},
   {"data": {"values": [{"part": "boxtime"}]},
    "mark": {"type": "text", "align": "left", "baseline": "middle", "fontSize": 8.5, "color": "white"},
    "encoding": {"x": {"datum": {"year":2022,"month":11,"date":22,"hours":15,"minutes":50,"utc":true}, "type": "temporal"}, "y": {"datum": 15870, "type": "quantitative", "scale": {"domain": [15316, 21784], "nice": false, "zero": false}}, "text": {"value": "01:58:28"}}}
  ]}
 ],
 "resolve": {"scale": {"y": "independent"}}
},
{
 "width": 958, "height": 83,
 "layer": [
  {"encoding": {"x": {"field": "t", "type": "temporal", "title": null,
     "scale": {"type": "utc", "domain": [{"year":2022,"month":9,"date":29,"hours":14,"minutes":24,"utc":true},{"year":2022,"month":11,"date":22,"hours":6,"minutes":26,"utc":true}]},
     "axis": {"labels": false, "grid": true, "domain": false, "ticks": false, "title": null, "values": [{"year":2022,"month":10,"date":1,"utc":true},{"year":2022,"month":10,"date":5,"utc":true},{"year":2022,"month":10,"date":10,"utc":true},{"year":2022,"month":10,"date":13,"hours":12,"utc":true},{"year":2022,"month":10,"date":17,"utc":true},{"year":2022,"month":10,"date":20,"hours":12,"utc":true},{"year":2022,"month":10,"date":24,"utc":true},{"year":2022,"month":10,"date":28,"utc":true},{"year":2022,"month":11,"date":1,"utc":true},{"year":2022,"month":11,"date":7,"utc":true},{"year":2022,"month":11,"date":10,"hours":12,"utc":true},{"year":2022,"month":11,"date":14,"utc":true},{"year":2022,"month":11,"date":17,"hours":12,"utc":true},{"year":2022,"month":11,"date":21,"utc":true}]}}},
   "layer": [
    {"data": {"name": "candles"},
     "transform": [{"window": [{"op": "lag", "field": "g", "as": "gp"}], "sort": [{"field": "t"}]}],
     "mark": {"type": "bar", "size": 4},
     "encoding": {"y": {"field": "g", "type": "quantitative", "scale": {"domain": [-1278, 541], "nice": false, "zero": false},
       "axis": {"orient": "right", "grid": true, "domain": true, "domainColor": "#a0a3ab", "labelPadding": 7, "values": [0, -500, -1000], "labelExpr": "(datum.value < 0 ? '-' : '') + format(abs(datum.value), '.2f')", "title": null}},
       "color": {"condition": [
         {"test": "datum.g >= 0 && (datum.gp == null || datum.g >= datum.gp)", "value": "#26a69a"},
         {"test": "datum.g >= 0", "value": "#b2dfdb"},
         {"test": "datum.gp == null || datum.g <= datum.gp", "value": "#ff5252"}], "value": "#ffcdd2"}}},
    {"data": {"name": "macd"},
     "mark": {"type": "line", "color": "#2962ff", "strokeWidth": 1.2, "interpolate": "monotone"},
     "encoding": {"y": {"field": "m", "type": "quantitative", "scale": {"domain": [-1278, 541], "nice": false, "zero": false}}}},
    {"data": {"name": "macd"},
     "mark": {"type": "line", "color": "#ff6d00", "strokeWidth": 1.2, "interpolate": "monotone"},
     "encoding": {"y": {"field": "s", "type": "quantitative", "scale": {"domain": [-1278, 541], "nice": false, "zero": false}}}}
   ]},
  {"data": {"values": [{"lvl": "zero"}]},
   "mark": {"type": "rule", "color": "#9598a1", "strokeDash": [3, 3], "strokeWidth": 1},
   "encoding": {"y": {"datum": 0, "type": "quantitative", "scale": {"domain": [-1278, 541], "nice": false, "zero": false}}}},
  {"data": {"values": [{"part": "frame-right"}]},
   "mark": {"type": "rule", "color": "#e0e3eb", "strokeWidth": 1},
   "encoding": {"x": {"datum": {"year":2022,"month":11,"date":25,"hours":3,"utc":true}, "type": "temporal"},
     "y": {"datum": 541, "type": "quantitative", "scale": {"domain": [-1278, 541], "nice": false, "zero": false}}, "y2": {"datum": -1278}}},
  {"data": {"values": [{"part": "frame-sep"}]},
   "mark": {"type": "rule", "color": "#e0e3eb", "strokeWidth": 1},
   "encoding": {"x": {"datum": {"year":2022,"month":11,"date":22,"hours":6,"minutes":26,"utc":true}, "type": "temporal"}, "x2": {"datum": {"year":2022,"month":11,"date":25,"hours":3,"utc":true}},
     "y": {"datum": -1278, "type": "quantitative", "scale": {"domain": [-1278, 541], "nice": false, "zero": false}}}}
 ]
},
{
 "width": 958, "height": 68,
 "layer": [
  {"data": {"values": [{"band": "30-70"}]},
   "mark": {"type": "rect", "color": "#7e57c2", "opacity": 0.1},
   "encoding": {
     "x": {"datum": {"year":2022,"month":9,"date":29,"hours":14,"minutes":24,"utc":true}, "type": "temporal", "scale": {"type": "utc", "domain": [{"year":2022,"month":9,"date":29,"hours":14,"minutes":24,"utc":true},{"year":2022,"month":11,"date":22,"hours":6,"minutes":26,"utc":true}]}},
     "x2": {"datum": {"year":2022,"month":11,"date":22,"hours":6,"minutes":26,"utc":true}},
     "y": {"datum": 30, "type": "quantitative", "scale": {"domain": [5.3, 84.9], "nice": false, "zero": false},
       "axis": {"orient": "right", "grid": true, "domain": true, "domainColor": "#a0a3ab", "labelPadding": 7, "values": [75, 25], "format": ".2f", "title": null}}, "y2": {"datum": 70}}},
  {"data": {"name": "levels"},
   "mark": {"type": "rule", "color": "#9598a1", "strokeDash": [3, 3], "strokeWidth": 1},
   "encoding": {"y": {"field": "lv", "type": "quantitative", "scale": {"domain": [5.3, 84.9], "nice": false, "zero": false}}}},
  {"encoding": {"x": {"field": "t", "type": "temporal", "title": null,
     "scale": {"type": "utc", "domain": [{"year":2022,"month":9,"date":29,"hours":14,"minutes":24,"utc":true},{"year":2022,"month":11,"date":22,"hours":6,"minutes":26,"utc":true}]},
     "axis": {"grid": true, "domain": true, "domainColor": "#a0a3ab", "ticks": false, "labelPadding": 7, "labelFontSize": 8.5, "title": null,
       "labelFontWeight": {"condition": {"test": "utcdate(datum.value) == 1 && utchours(datum.value) == 0", "value": "bold"}, "value": "normal"},
       "labelExpr": "utchours(datum.value) == 12 ? '12:00' : (utcdate(datum.value) == 1 ? utcFormat(datum.value, '%b') : '' + utcdate(datum.value))",
       "values": [{"year":2022,"month":10,"date":1,"utc":true},{"year":2022,"month":10,"date":5,"utc":true},{"year":2022,"month":10,"date":10,"utc":true},{"year":2022,"month":10,"date":13,"hours":12,"utc":true},{"year":2022,"month":10,"date":17,"utc":true},{"year":2022,"month":10,"date":20,"hours":12,"utc":true},{"year":2022,"month":10,"date":24,"utc":true},{"year":2022,"month":10,"date":28,"utc":true},{"year":2022,"month":11,"date":1,"utc":true},{"year":2022,"month":11,"date":7,"utc":true},{"year":2022,"month":11,"date":10,"hours":12,"utc":true},{"year":2022,"month":11,"date":14,"utc":true},{"year":2022,"month":11,"date":17,"hours":12,"utc":true},{"year":2022,"month":11,"date":21,"utc":true}]}}},
   "layer": [
    {"data": {"name": "rsima"},
     "mark": {"type": "line", "color": "#f7e35a", "strokeWidth": 1.2, "interpolate": "monotone"},
     "encoding": {"y": {"field": "a", "type": "quantitative", "scale": {"domain": [5.3, 84.9], "nice": false, "zero": false}}}},
    {"data": {"name": "rsi"},
     "mark": {"type": "line", "color": "#7e57c2", "strokeWidth": 1.1},
     "encoding": {"y": {"field": "r", "type": "quantitative", "scale": {"domain": [5.3, 84.9], "nice": false, "zero": false}}}}
   ]},
  {"data": {"values": [{"part": "frame-right"}]},
   "mark": {"type": "rule", "color": "#e0e3eb", "strokeWidth": 1},
   "encoding": {"x": {"datum": {"year":2022,"month":11,"date":25,"hours":3,"utc":true}, "type": "temporal"},
     "y": {"datum": 84.9, "type": "quantitative", "scale": {"domain": [5.3, 84.9], "nice": false, "zero": false}}, "y2": {"datum": -19.3}}},
  {"data": {"values": [{"part": "frame-left"}]},
   "mark": {"type": "rule", "color": "#e0e3eb", "strokeWidth": 1},
   "encoding": {"x": {"datum": {"year":2022,"month":9,"date":29,"hours":14,"minutes":24,"utc":true}, "type": "temporal"},
     "y": {"datum": 5.3, "type": "quantitative", "scale": {"domain": [5.3, 84.9], "nice": false, "zero": false}}, "y2": {"datum": -19.3}}},
  {"data": {"values": [{"part": "frame-bottom"}]},
   "mark": {"type": "rule", "color": "#e0e3eb", "strokeWidth": 1},
   "encoding": {"x": {"datum": {"year":2022,"month":9,"date":29,"hours":14,"minutes":24,"utc":true}, "type": "temporal"}, "x2": {"datum": {"year":2022,"month":11,"date":25,"hours":3,"utc":true}},
     "y": {"datum": -19.3, "type": "quantitative", "scale": {"domain": [5.3, 84.9], "nice": false, "zero": false}}}},
  {"data": {"values": [{"part": "axis-sep"}]},
   "mark": {"type": "rule", "color": "#a0a3ab", "strokeWidth": 1},
   "encoding": {"x": {"datum": {"year":2022,"month":11,"date":22,"hours":6,"minutes":26,"utc":true}, "type": "temporal"},
     "y": {"datum": 5.3, "type": "quantitative", "scale": {"domain": [5.3, 84.9], "nice": false, "zero": false}}, "y2": {"datum": -19.3}}},
  {"data": {"values": [{"part": "axis-line"}]},
   "mark": {"type": "rule", "color": "#e0e3eb", "strokeWidth": 1},
   "encoding": {"x": {"datum": {"year":2022,"month":11,"date":22,"hours":6,"minutes":26,"utc":true}, "type": "temporal"}, "x2": {"datum": {"year":2022,"month":11,"date":25,"hours":3,"utc":true}},
     "y": {"datum": 5.3, "type": "quantitative", "scale": {"domain": [5.3, 84.9], "nice": false, "zero": false}}}},
  {"data": {"values": [{"part": "logo"}]},
   "mark": {"type": "text", "align": "left", "baseline": "middle", "fontSize": 11, "fontWeight": "bold", "color": "#131722"},
   "encoding": {"x": {"datum": {"year":2022,"month":9,"date":29,"hours":14,"minutes":24,"utc":true}, "type": "temporal"}, "y": {"datum": -35.7, "type": "quantitative", "scale": {"domain": [5.3, 84.9], "nice": false, "zero": false}}, "text": {"value": "TV"}}},
  {"data": {"values": [{"part": "brand"}]},
   "mark": {"type": "text", "align": "left", "baseline": "middle", "fontSize": 10, "color": "#131722"},
   "encoding": {"x": {"datum": {"year":2022,"month":9,"date":30,"hours":16,"utc":true}, "type": "temporal"}, "y": {"datum": -35.7, "type": "quantitative", "scale": {"domain": [5.3, 84.9], "nice": false, "zero": false}}, "text": {"value": "TradingView"}}}
 ]
}
]
}
